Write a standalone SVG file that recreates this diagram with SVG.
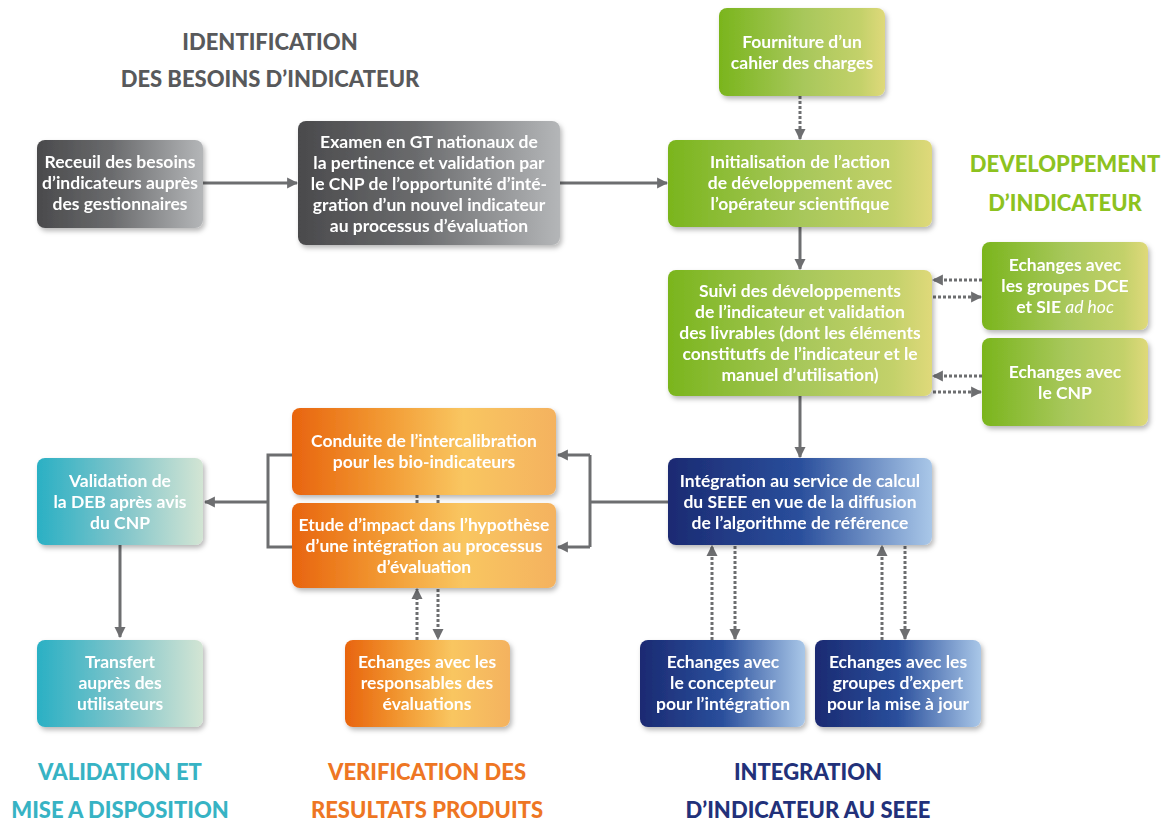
<svg xmlns="http://www.w3.org/2000/svg" width="1168" height="821" viewBox="0 0 1168 821">
<defs>
<linearGradient id="gGray" x1="0" y1="0" x2="1" y2="0"><stop offset="0" stop-color="#4a4a4c"/><stop offset="0.45" stop-color="#6a6b6d"/><stop offset="1" stop-color="#b4b6b8"/></linearGradient>
<linearGradient id="gGreen" x1="0" y1="0" x2="1" y2="0"><stop offset="0" stop-color="#7ab51d"/><stop offset="0.5" stop-color="#a7c75a"/><stop offset="0.85" stop-color="#c3d16a"/><stop offset="1" stop-color="#dfd97a"/></linearGradient>
<linearGradient id="gTeal" x1="0" y1="0" x2="1" y2="0"><stop offset="0" stop-color="#2ab0c4"/><stop offset="0.5" stop-color="#7ec4ca"/><stop offset="1" stop-color="#d3e5d4"/></linearGradient>
<linearGradient id="gOrange" x1="0" y1="0" x2="1" y2="0"><stop offset="0" stop-color="#e8640e"/><stop offset="0.35" stop-color="#f29a33"/><stop offset="0.65" stop-color="#f9c661"/><stop offset="1" stop-color="#f4b25f"/></linearGradient>
<linearGradient id="gBlue" x1="0" y1="0" x2="1" y2="0"><stop offset="0" stop-color="#1b2a72"/><stop offset="0.5" stop-color="#2a4f9c"/><stop offset="1" stop-color="#a9c7e8"/></linearGradient>
<filter id="sh" x="-10%" y="-10%" width="125%" height="130%"><feDropShadow dx="2" dy="3" stdDeviation="2.5" flood-color="#000" flood-opacity="0.28"/></filter>
<marker id="ah" viewBox="0 0 10 10" refX="9" refY="5" markerWidth="11" markerHeight="12" markerUnits="userSpaceOnUse" orient="auto"><path d="M0,0 L10,5 L0,10 z" fill="#6d6e70"/></marker>
<style>
.box{filter:url(#sh)}
.t{font-family:Lato,"Liberation Sans",sans-serif;font-weight:bold;font-size:17.5px;fill:#fff;text-anchor:middle}
.h{font-family:Lato,"Liberation Sans",sans-serif;font-weight:900;font-size:22px;text-anchor:middle}
.ln{fill:none;stroke:#6d6e70;stroke-width:3}
.dt{fill:none;stroke:#6d6e70;stroke-width:3;stroke-dasharray:3 2}
</style>
</defs>
<rect width="1168" height="821" fill="#fff"/>

<g id="titles">
<text class="h" x="270" y="50" fill="#58595b">IDENTIFICATION</text>
<text class="h" x="270" y="87" fill="#58595b">DES BESOINS D’INDICATEUR</text>
<text class="h" x="1065" y="172" fill="#8dc21f">DEVELOPPEMENT</text>
<text class="h" x="1065" y="211" fill="#8dc21f">D’INDICATEUR</text>
<text class="h" x="120" y="780" fill="#37b3c4">VALIDATION ET</text>
<text class="h" x="120" y="818" fill="#37b3c4">MISE A DISPOSITION</text>
<text class="h" x="427" y="780" fill="#ee7623">VERIFICATION DES</text>
<text class="h" x="427" y="818" fill="#ee7623">RESULTATS PRODUITS</text>
<text class="h" x="808" y="780" fill="#22317a">INTEGRATION</text>
<text class="h" x="808" y="818" fill="#22317a">D’INDICATEUR AU SEEE</text>
</g>

<g id="connectors">
<line class="ln" x1="203" y1="183" x2="297" y2="183" marker-end="url(#ah)"/>
<line class="ln" x1="560" y1="183" x2="667" y2="183" marker-end="url(#ah)"/>
<line class="dt" x1="800" y1="96" x2="800" y2="139" marker-end="url(#ah)"/>
<line class="ln" x1="800" y1="227" x2="800" y2="269" marker-end="url(#ah)"/>
<line class="dt" x1="982" y1="280" x2="933" y2="280" marker-end="url(#ah)"/>
<line class="dt" x1="933" y1="297" x2="981" y2="297" marker-end="url(#ah)"/>
<line class="dt" x1="982" y1="376" x2="933" y2="376" marker-end="url(#ah)"/>
<line class="dt" x1="933" y1="392" x2="981" y2="392" marker-end="url(#ah)"/>
<line class="ln" x1="800" y1="396" x2="800" y2="457" marker-end="url(#ah)"/>
<polyline class="ln" points="668,502 590,502"/>
<polyline class="ln" points="590,455 590,547"/>
<line class="ln" x1="590" y1="455" x2="558" y2="455" marker-end="url(#ah)"/>
<line class="ln" x1="590" y1="547" x2="558" y2="547" marker-end="url(#ah)"/>
<polyline class="ln" points="292,455 268,455 268,547 292,547"/>
<line class="ln" x1="268" y1="502" x2="205" y2="502" marker-end="url(#ah)"/>
<line class="ln" x1="120" y1="545" x2="120" y2="637" marker-end="url(#ah)"/>
<line class="dt" x1="417" y1="495" x2="417" y2="503"/>
<line class="dt" x1="438" y1="495" x2="438" y2="503"/>
<line class="dt" x1="417" y1="640" x2="417" y2="589" marker-end="url(#ah)"/>
<line class="dt" x1="438" y1="589" x2="438" y2="639" marker-end="url(#ah)"/>
<line class="dt" x1="712" y1="640" x2="712" y2="546" marker-end="url(#ah)"/>
<line class="dt" x1="735" y1="546" x2="735" y2="639" marker-end="url(#ah)"/>
<line class="dt" x1="882" y1="640" x2="882" y2="546" marker-end="url(#ah)"/>
<line class="dt" x1="905" y1="546" x2="905" y2="639" marker-end="url(#ah)"/>
</g>

<g id="n-receuil" class="box"><rect x="37" y="140" width="166" height="88" rx="8" fill="url(#gGray)"/>
<text class="t" x="120" y="168">Receuil des besoins</text><text class="t" x="120" y="189">d’indicateurs auprès</text><text class="t" x="120" y="210">des gestionnaires</text></g>

<g id="n-examen" class="box"><rect x="298" y="121" width="262" height="124" rx="8" fill="url(#gGray)"/>
<text class="t" x="429" y="148">Examen en GT nationaux de</text><text class="t" x="429" y="169">la pertinence et validation par</text><text class="t" x="429" y="190">le CNP de l’opportunité d’inté-</text><text class="t" x="429" y="211">gration d’un nouvel indicateur</text><text class="t" x="429" y="232">au processus d’évaluation</text></g>

<g id="n-fourniture" class="box"><rect x="719" y="8" width="166" height="88" rx="8" fill="url(#gGreen)"/>
<text class="t" x="802" y="48">Fourniture d’un</text><text class="t" x="802" y="69">cahier des charges</text></g>

<g id="n-init" class="box"><rect x="668" y="140" width="264" height="87" rx="8" fill="url(#gGreen)"/>
<text class="t" x="800" y="168">Initialisation de l’action</text><text class="t" x="800" y="189">de développement avec</text><text class="t" x="800" y="210">l’opérateur scientifique</text></g>

<g id="n-suivi" class="box"><rect x="668" y="270" width="264" height="126" rx="8" fill="url(#gGreen)"/>
<text class="t" x="800" y="297">Suivi des développements</text><text class="t" x="800" y="318">de l’indicateur et validation</text><text class="t" x="800" y="339">des livrables (dont les éléments</text><text class="t" x="800" y="360">constitutfs de l’indicateur et le</text><text class="t" x="800" y="381">manuel d’utilisation)</text></g>

<g id="n-dce" class="box"><rect x="982" y="242" width="166" height="88" rx="8" fill="url(#gGreen)"/>
<text class="t" x="1065" y="271">Echanges avec</text><text class="t" x="1065" y="292">les groupes DCE</text><text class="t" x="1065" y="313">et SIE <tspan font-style="italic" font-weight="normal">ad hoc</tspan></text></g>

<g id="n-cnp" class="box"><rect x="982" y="338" width="166" height="88" rx="8" fill="url(#gGreen)"/>
<text class="t" x="1065" y="378">Echanges avec</text><text class="t" x="1065" y="399">le CNP</text></g>

<g id="n-seee" class="box"><rect x="668" y="458" width="264" height="87" rx="8" fill="url(#gBlue)"/>
<text class="t" x="800" y="487">Intégration au service de calcul</text><text class="t" x="800" y="508">du SEEE en vue de la diffusion</text><text class="t" x="800" y="529">de l’algorithme de référence</text></g>

<g id="n-conduite" class="box"><rect x="292" y="408" width="264" height="87" rx="8" fill="url(#gOrange)"/>
<text class="t" x="424" y="447">Conduite de l’intercalibration</text><text class="t" x="424" y="468">pour les bio-indicateurs</text></g>

<g id="n-etude" class="box"><rect x="292" y="503" width="264" height="85" rx="8" fill="url(#gOrange)"/>
<text class="t" x="424" y="531">Etude d’impact dans l’hypothèse</text><text class="t" x="424" y="552">d’une intégration au processus</text><text class="t" x="424" y="573">d’évaluation</text></g>

<g id="n-validation" class="box"><rect x="37" y="458" width="166" height="87" rx="8" fill="url(#gTeal)"/>
<text class="t" x="120" y="487">Validation de</text><text class="t" x="120" y="508">la DEB après avis</text><text class="t" x="120" y="529">du CNP</text></g>

<g id="n-transfert" class="box"><rect x="37" y="640" width="166" height="87" rx="8" fill="url(#gTeal)"/>
<text class="t" x="120" y="668">Transfert</text><text class="t" x="120" y="689">auprès des</text><text class="t" x="120" y="710">utilisateurs</text></g>

<g id="n-responsables" class="box"><rect x="345" y="640" width="165" height="87" rx="8" fill="url(#gOrange)"/>
<text class="t" x="427" y="668">Echanges avec les</text><text class="t" x="427" y="689">responsables des</text><text class="t" x="427" y="710">évaluations</text></g>

<g id="n-concepteur" class="box"><rect x="640" y="640" width="165" height="87" rx="8" fill="url(#gBlue)"/>
<text class="t" x="723" y="668">Echanges avec</text><text class="t" x="723" y="689">le concepteur</text><text class="t" x="723" y="710">pour l’intégration</text></g>

<g id="n-expert" class="box"><rect x="815" y="640" width="166" height="87" rx="8" fill="url(#gBlue)"/>
<text class="t" x="898" y="668">Echanges avec les</text><text class="t" x="898" y="689">groupes d’expert</text><text class="t" x="898" y="710">pour la mise à jour</text></g>
</svg>
